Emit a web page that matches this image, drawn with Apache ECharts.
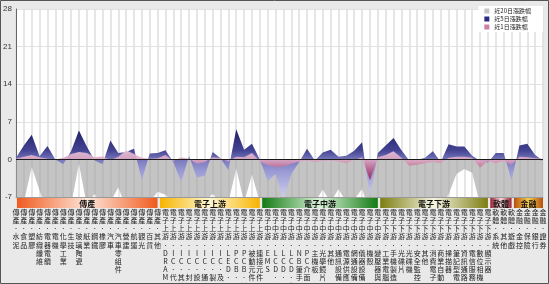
<!DOCTYPE html>
<html><head><meta charset="utf-8">
<script src="https://cdn.jsdelivr.net/npm/echarts@6/dist/echarts.min.js"></script>
<style>html,body{margin:0;padding:0;background:#fff}#c{width:549px;height:284px}</style>
</head><body><div id="c"></div>
<script>
// ---- data ----
const groupNames = ['傳產','電子上游','電子中游','電子下游','軟體','金融'];
const groupSizes = [19, 13, 15, 14, 3, 4];
const categories = [
 '傳產．水泥','傳產．食品','傳產．塑膠','傳產．紡織纖維','傳產．電器電纜','傳產．電機','傳產．化學工業','傳產．生技','傳產．玻璃陶瓷','傳產．紙業','傳產．鋼鐵','傳產．橡膠','傳產．汽車','傳產．汽車零組件','傳產．營建','傳產．航運','傳產．觀光','傳產．百貨','傳產．其他',
 '電子上游．DRAM','電子上游．IC．代工','電子上游．IC．其他','電子上游．IC．封測','電子上游．IC．設計','電子上游．IC．通路','電子上游．IC．製造','電子上游．IC．及周邊','電子上游．LED．照明','電子上游．PCB．製造','電子上游．PCB．材料','電子上游．被動元件','電子上游．連接元件',
 '電子中游．EMS','電子中游．LCD．面板','電子中游．LCD．零組件','電子中游．LCD．背光','電子中游．NB筆手','電子中游．PC介面','電子中游．主機板','電子中游．光學鏡片','電子中游．其他','電子中游．通訊設備','電子中游．電源供應','電子中游．網通設備','電子中游．儀器設備','電子中游．機殼','電子中游．變壓器與電感',
 '電子下游．工業電腦','電子下游．手機製造','電子下游．光碟片','電子下游．光碟機','電子下游．安全監控','電子下游．其他','電子下游．消費電子','電子下游．商業自動','電子下游．掃描器','電子下游．筆記型電腦','電子下游．資訊通路','電子下游．電信服務','電子下游．數位相機','電子下游．顯示器',
 '軟體．系統','軟體．其他','軟體．遊戲',
 '金融．金控','金融．保險','金融．銀行','金融．證券'
];
const chg20 = [-9,-8,-1.4,-5.8,-10,-9,-9,-8.5,-0.8,-8.5,-6.4,-9,-8,-5.2,-9,-10,-9,-8,-6.0,
 -6.6,-8,-10,-9,-9,-8,-6.4,-8,-8,-1.7,-8,-2.8,-8,
 -10,-10,-12,-10,-9,-9,-8,-5.6,-8,-5.5,-8,-7.5,-5.5,-10,-9,
 -9,-9,-9,-9,-9,-9,-9,-9,-6.5,-2.7,-1.8,-2.5,-8.5,-9,
 -9,-9,-9,
 -9,-9,-9,-9];
const chg5 = [0.3,2.6,4.6,0.6,2.5,0.0,-0.9,1.5,5.4,2.4,-0.2,-0.9,3.5,1.2,1.4,2.0,-3.8,1.1,1.2,
 1.7,-0.5,-4.2,0.6,-3.4,-3.0,1.4,0.2,-2.0,5.6,1.8,2.9,0.0,
 -4.0,-2.7,-7.5,-2.7,-0.5,2.0,-0.2,1.3,1.8,0.5,0.7,1.6,3.2,-6.8,1.2,
 2.6,4.0,1.7,-0.2,-0.1,0.3,1.5,-0.5,2.8,2.4,2.4,0.7,-0.3,-0.6,
 1.2,1.2,-3.9,
 2.6,2.9,0.8,-0.2];
const chg1 = [0.1,0.5,0.8,0.4,0.1,0.0,0.3,1.0,1.4,1.2,0.4,0.6,-0.2,0.5,1.7,1.0,0.3,0.1,0.2,
 0.8,-0.3,0.4,0.1,-0.8,-0.5,0.4,0.25,-0.4,0.5,0.4,1.2,-0.4,
 -1.1,-1.4,-1.3,-0.8,-0.4,-0.2,-0.5,-0.3,-0.2,-0.4,-0.7,-0.1,0.4,-3.9,0.4,
 0.8,1.5,0.3,-1.2,-1.0,-0.7,-0.5,-0.7,0.3,0.5,0.5,0.3,-1.5,-0.3,
 -0.7,-0.3,-1.0,
 0.5,0.4,0.2,0.1];
const seriesNames = ['近20日漲跌幅','近5日漲跌幅','近1日漲跌幅'];
const yMin = -7, yMax = 28, yStep = 7;

// ---- chart ----
const groupColors = [
 ['#f05a1e','#fde6d8'], ['#f7b400','#fff7d2'], ['#137a13','#d8f2d8'],
 ['#7d7d12','#f4f4e0'], ['#9c1c2c','#f4d8dc'], ['#b5500e','#f6cd4a']
];
const groupData = [];
let acc = 0;
groupSizes.forEach((n, k) => { groupData.push([acc - 1, acc + n - 1, k]); acc += n; });

const chart = echarts.init(document.getElementById('c'), null, {renderer: 'canvas'});
const FONT = '"Noto Sans CJK TC","Noto Sans CJK SC",sans-serif';
chart.setOption({
  backgroundColor: '#e9e9e9',
  animation: false,
  textStyle: {fontFamily: FONT},
  legend: {
    data: seriesNames, orient: 'vertical', right: 6, top: 6,
    itemWidth: 5, itemHeight: 5, itemGap: 2, icon: 'rect',
    backgroundColor: '#fff', padding: [2, 12, 2, 6],
    textStyle: {fontSize: 6, color: '#222', fontFamily: FONT}
  },
  grid: [
    {left: 16, right: 6, top: 9, bottom: 87, show: true, backgroundColor: '#fff', borderWidth: 0,
     containLabel: false, outerBoundsMode: 'none'},
    {left: 16, right: 6, top: 198, height: 10, show: false, containLabel: false, outerBoundsMode: 'none'}
  ],
  xAxis: [
    {type: 'category', data: categories, boundaryGap: false, gridIndex: 0,
     axisTick: {show: false},
     axisLine: {show: true, onZero: false, lineStyle: {color: '#999'}},
     splitLine: {show: true, interval: 0, lineStyle: {color: '#dedede', width: 1.5}},
     axisLabel: {interval: 0, fontSize: 7, lineHeight: 8.2, margin: 11, color: '#222', fontFamily: FONT,
       formatter: v => v.split('').join('\n')}},
    {type: 'value', gridIndex: 1, min: 0, max: categories.length - 1, show: false}
  ],
  yAxis: [
    {type: 'value', min: yMin, max: yMax, interval: yStep, gridIndex: 0,
     axisLine: {show: true, lineStyle: {color: '#666'}},
     axisTick: {show: false},
     axisLabel: {fontSize: 8, color: '#333', margin: 4, fontFamily: 'Liberation Sans'},
     splitLine: {show: true, lineStyle: {color: '#e2e2e2', width: 1}}},
    {type: 'value', gridIndex: 1, min: 0, max: 1, show: false}
  ],
  series: [
    {name: seriesNames[0], type: 'line', data: chg20, showSymbol: false, symbol: 'none',
     color: '#c4c4c4', lineStyle: {width: 0}, areaStyle: {color: 'rgba(165,165,165,0.65)', opacity: 1}, z: 2},
    {name: seriesNames[1], type: 'line', data: chg5, showSymbol: false, symbol: 'none',
     color: '#2b2b85', lineStyle: {width: 0},
     areaStyle: {opacity: 0.95, color: new echarts.graphic.LinearGradient(0, 0, 0, 1, [
       {offset: 0, color: '#15155e'}, {offset: 0.3, color: '#3a3a8e'}, {offset: 0.45, color: '#7a7abf'},
       {offset: 0.6, color: '#9898d6'}, {offset: 1, color: '#d4d4f4'}])}, z: 3},
    {name: seriesNames[2], type: 'line', data: chg1, showSymbol: false, symbol: 'none',
     color: '#cf7fa2', lineStyle: {width: 0},
     areaStyle: {opacity: 0.9, color: new echarts.graphic.LinearGradient(0, 0, 0, 1, [
       {offset: 0, color: '#ecc6d8'}, {offset: 0.35, color: '#d9a2bf'}, {offset: 0.6, color: '#c06890'},
       {offset: 1, color: '#8e1a4a'}])}, z: 4,
     markLine: {silent: true, symbol: 'none', label: {show: false},
       lineStyle: {color: '#1a1a1a', width: 1.2, type: 'solid'}, data: [{yAxis: 0}]}},
    {type: 'custom', xAxisIndex: 1, yAxisIndex: 1, data: groupData, clip: false, z: 5,
     renderItem: (params, api) => {
       const s = Math.max(api.value(0) + 0.3, 0.12), e = api.value(1), k = api.value(2);
       const p0 = api.coord([s, 1]), p1 = api.coord([e, 0]);
       const c = groupColors[k];
       return {type: 'group', children: [
         {type: 'rect', shape: {x: p0[0], y: p0[1], width: p1[0] - p0[0], height: p1[1] - p0[1]},
          style: {fill: new echarts.graphic.LinearGradient(0, 0, 1, 0, [
            {offset: 0, color: c[0]}, {offset: 0.5, color: c[1]}, {offset: 1, color: c[0]}])}},
         {type: 'text', style: {text: groupNames[k], x: (p0[0] + p1[0]) / 2, y: (p0[1] + p1[1]) / 2 + 0.5,
          align: 'center', verticalAlign: 'middle', fontSize: 8, fontWeight: 'bold', fontFamily: FONT, fill: '#111'}}
       ]};
     }}
  ],
  graphic: [{type: 'rect', shape: {x: 0.5, y: 0.5, width: 548, height: 283}, style: {fill: 'none', stroke: '#555', lineWidth: 1}, z: 100}]
});
</script></body></html>
